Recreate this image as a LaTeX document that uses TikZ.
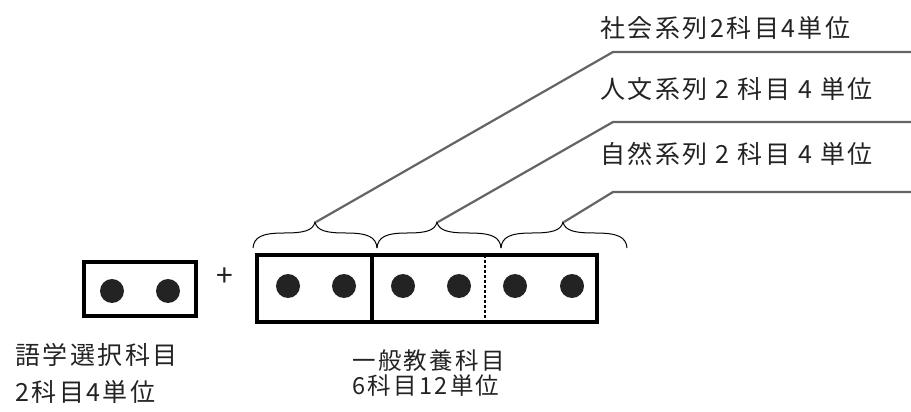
\documentclass[tikz,border=0pt]{standalone}
\usepackage{fontspec}
\setmainfont{Noto Sans CJK JP}[LetterSpace=10]
\definecolor{leader}{RGB}{100,100,100}
\definecolor{ink}{RGB}{35,35,35}
\begin{document}
\begin{tikzpicture}[x=1pt,y=-1pt,
  frame/.style={draw=black,line width=4pt,inner sep=0pt},
  dot/.style={fill=ink,draw=none},
  bracestyle/.style={draw=black,line width=1pt},
  leaderline/.style={draw=leader,line width=2.2pt},
  lbl/.style={anchor=west,inner sep=0pt,font=\fontsize{25}{29}\selectfont,text=ink},
  lblsmall/.style={lbl,font=\fontsize{23.5}{27}\selectfont},
]
\useasboundingbox (0,0) rectangle (911,412);
% language box
\node[frame,minimum width=112pt,minimum height=54pt] (lang) at (140,289) {};
\fill[dot] (112,291) circle[radius=12pt];
\fill[dot] (168,291) circle[radius=12pt];
% plus sign
\node[inner sep=0pt,font=\fontsize{30}{30}\selectfont,text=ink] (plus) at (225,277) {+};
% general education box
\node[frame,minimum width=340pt,minimum height=67pt] (gen) at (427,288.5) {};
\draw[black,line width=3.5pt] (372,255) -- (372,322);
\draw[black,line width=1.3pt,dash pattern=on 3pt off 2pt] (485,255) -- (485,322);
\foreach \x in {288,344,403,459,515,572}
  \fill[dot] (\x,286) circle[radius=12pt];
% braces
\foreach \a/\t/\b/\n in {253/315/377/1, 377/437/501/2, 501/563/627/3} {
  \draw[bracestyle] (\a,248) .. controls (\a+1,237) and (\a+9,233) .. ({(\a+\t)/2},233)
    .. controls (\t-12,233) and (\t-2,231) .. (\t,222)
    .. controls (\t+2,231) and (\t+12,233) .. ({(\t+\b)/2},233)
    .. controls (\b-9,233) and (\b-1,237) .. (\b,248);
  \coordinate (tip\n) at (\t+1,222);
}
% leader lines
\coordinate (c1) at (613,52);  \coordinate (e1) at (911,52);
\coordinate (c2) at (613,122); \coordinate (e2) at (911,122);
\coordinate (c3) at (613,192); \coordinate (e3) at (911,192);
\draw[leaderline] (tip1) -- (c1) -- (e1);
\draw[leaderline] (tip2) -- (c2) -- (e2);
\draw[leaderline] (tip3) -- (c3) -- (e3);
% labels
\node[lbl] (soc) at (600,28) {社会系列2科目4単位};
\node[lbl] (hum) at (600,89) {人文系列 2 科目 4 単位};
\node[lbl] (nat) at (600,154) {自然系列 2 科目 4 単位};
\node[lbl] (langA) at (15,355) {語学選択科目};
\node[lbl] (langB) at (15,392) {2科目4単位};
\node[lblsmall] (genA) at (352,361) {一般教養科目};
\node[lblsmall] (genB) at (352,386) {6科目12単位};
\end{tikzpicture}
\end{document}
